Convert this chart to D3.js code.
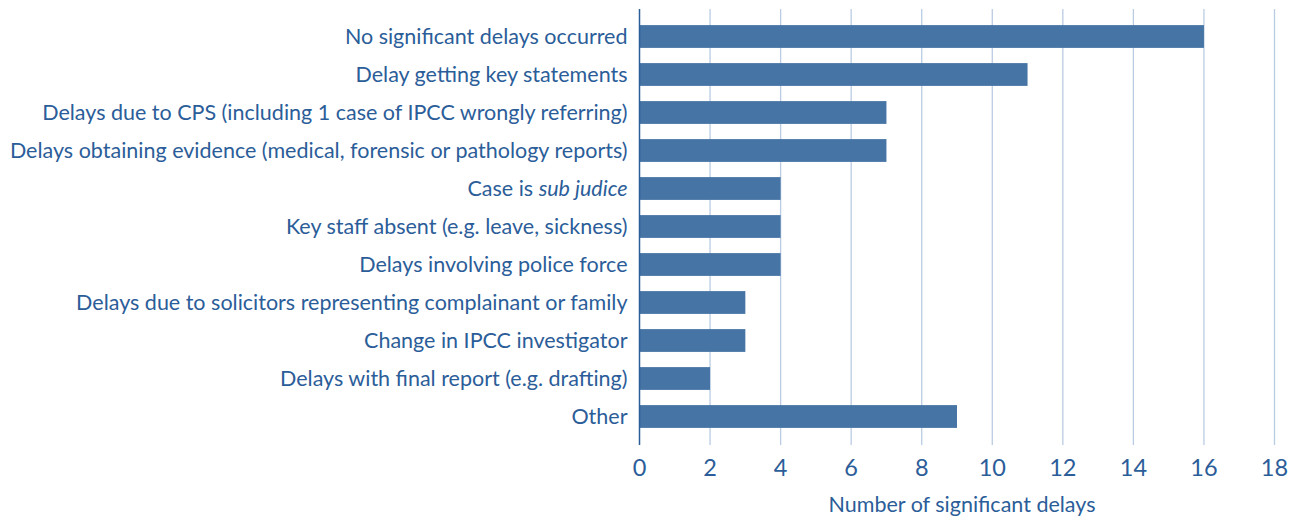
<!DOCTYPE html>
<html lang="en">
<head>
  <meta charset="UTF-8">
  <title>delays</title>
  <script src="https://d3js.org/d3.v7.min.js" charset="utf-8"></script>
  <style>
    body { margin: 0; background: #fff; }
    text { font-family: Lato, sans-serif; fill: #2b5d99; }
  </style>
</head>
<body>
</body>
<script>
  // categories top to bottom
  var categories = [
    'No significant delays occurred',
    'Delay getting key statements',
    'Delays due to CPS (including 1 case of IPCC wrongly referring)',
    'Delays obtaining evidence (medical, forensic or pathology reports)',
    'Case is sub judice',
    'Key staff absent (e.g. leave, sickness)',
    'Delays involving police force',
    'Delays due to solicitors representing complainant or family',
    'Change in IPCC investigator',
    'Delays with final report (e.g. drafting)',
    'Other'
  ]
  var delays = [16, 11, 7, 7, 4, 4, 4, 3, 3, 2, 9]
  var xTicks = [0, 2, 4, 6, 8, 10, 12, 14, 16, 18]
  var xTitle = 'Number of significant delays'

  var width = 1293, height = 519
  var plotLeft = 639.5, plotRight = 1274.5
  var plotTop = 17.5, plotBottom = 435.5
  var fontSize = 21.5

  var svg = d3.select('body').append('svg').attr('width', width).attr('height', height)

  var x = d3.scaleLinear().domain([0, 18]).range([plotLeft, plotRight])
  var y = d3.scaleBand().domain(categories).range([plotTop, plotBottom])
    .paddingInner(0.4).paddingOuter(0.2)

  // grid lines
  svg.append('g').selectAll('line').data(xTicks.slice(1)).enter().append('line')
    .attr('x1', d => x(d)).attr('x2', d => x(d))
    .attr('y1', 9).attr('y2', 445)
    .attr('stroke', '#b9cce2').attr('stroke-width', 1.3)

  // bars
  svg.append('g').selectAll('rect').data(delays).enter().append('rect')
    .attr('x', x(0))
    .attr('y', (d, i) => y(categories[i]))
    .attr('width', d => x(d) - x(0))
    .attr('height', y.bandwidth())
    .attr('fill', '#4674a5')

  // vertical axis line
  svg.append('line')
    .attr('x1', x(0)).attr('x2', x(0))
    .attr('y1', 9).attr('y2', 445)
    .attr('stroke', '#2b5d99').attr('stroke-width', 1.5)

  // category labels
  var labels = svg.append('g').selectAll('text').data(categories).enter().append('text')
    .attr('x', x(0) - 12)
    .attr('y', d => y(d) + y.bandwidth() / 2)
    .attr('dy', '0.35em')
    .attr('text-anchor', 'end')
    .style('font-size', fontSize + 'px')
  labels.each(function(d) {
    var t = d3.select(this)
    if (d === 'Case is sub judice') {
      t.append('tspan').text('Case is ')
      t.append('tspan').style('font-style', 'italic').text('sub judice')
    } else {
      t.text(d)
    }
  })

  // x tick labels
  svg.append('g').selectAll('text').data(xTicks).enter().append('text')
    .attr('x', d => x(d))
    .attr('y', 476)
    .attr('text-anchor', 'middle')
    .style('font-size', '23.5px')
    .text(d => d)

  svg.append('text')
    .attr('x', 962)
    .attr('y', 512)
    .attr('text-anchor', 'middle')
    .style('font-size', fontSize + 'px')
    .text(xTitle)
</script>
</html>
